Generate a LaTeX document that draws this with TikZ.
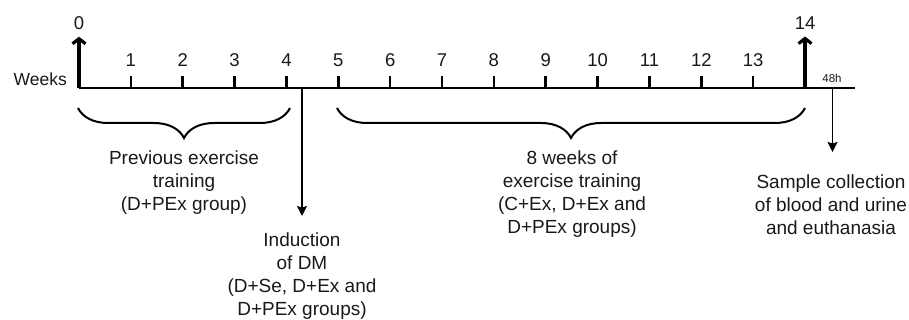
\documentclass[tikz,border=0pt]{standalone}
\usepackage{fontspec}
\setmainfont{Liberation Sans}
\usetikzlibrary{arrows.meta,decorations.pathreplacing}

\begin{document}
\begin{tikzpicture}[x=1pt,y=-1pt,
  txt/.style={font=\fontsize{19}{23}\selectfont, inner sep=0pt, align=center, text=black!90},
  num/.style={font=\fontsize{18.5}{22}\selectfont, inner sep=0pt, text=black!90},
  axisline/.style={line width=2.6pt},
  tickmark/.style={line width=2.6pt},
  bigarrow/.style={line width=3.2pt, -{Straight Barb[length=5pt,width=13pt,line width=3.2pt]}},
  thinarrow/.style={line width=1.6pt, -{Stealth[length=10pt,width=10pt,inset=1.5pt]}},
  bracestyle/.style={line width=2pt, decorate, decoration={brace, amplitude=30pt, aspect=0.5}}]
\useasboundingbox (0,0) rectangle (909,320);

% time axis
\coordinate (a0) at (79,88);
\coordinate (a14) at ({79+51.86*14},88);
\coordinate (aend) at (855,88);
\draw[axisline] (a0) -- (aend);

% weekly ticks with labels
\foreach \i in {1,...,13} {
  \coordinate (t\i) at ({79+51.86*\i},88);
  \draw[tickmark] (t\i) -- ++(0,-12);
  \node[num] (n\i) at ({79+51.86*\i},60) {\i};
}

% start and end of the protocol
\node[num] (n0) at (79,23) {0};
\node[num] (n14) at ({79+51.86*14},23) {14};
\draw[bigarrow] (a0) -- ([yshift=-7pt]n0.south);
\draw[bigarrow] (a14) -- ([yshift=-7pt]n14.south);

\node[font=\fontsize{17.5}{20}\selectfont, inner sep=0pt, anchor=east, text=black!90] (weeks) at (67,79) {Weeks};
\node[font=\fontsize{11.5}{13}\selectfont, inner sep=0pt, text=black!90] (h48) at (832,78) {48h};

% braces over the training periods
\coordinate (b1l) at (78,108);
\coordinate (b1r) at (290,108);
\coordinate (b2l) at (337,108);
\coordinate (b2r) at (805,108);
\draw[bracestyle] (b1r) -- (b1l);
\draw[bracestyle] (b2r) -- (b2l);

\node[txt, anchor=north] (prev) at (184,151) {Previous exercise\\training\\(D+PEx group)};
\node[txt, anchor=north] (train) at (572,151) {8 weeks of\\exercise training\\(C+Ex, D+Ex and\\D+PEx groups)};

% induction of diabetes
\coordinate (c4) at (302,88);
\node[txt, anchor=north] (induct) at (302,233) {Induction\\of DM\\(D+Se, D+Ex and\\D+PEx groups)};
\draw[thinarrow] (c4) -- ([yshift=17pt]induct.north);

% sample collection
\coordinate (c48) at (832.5,88);
\node[txt, anchor=north] (sample) at (831,175) {Sample collection\\of blood and urine\\and euthanasia};
\draw[thinarrow] (c48) -- ([yshift=23pt]sample.north -| c48);
\end{tikzpicture}
\end{document}
